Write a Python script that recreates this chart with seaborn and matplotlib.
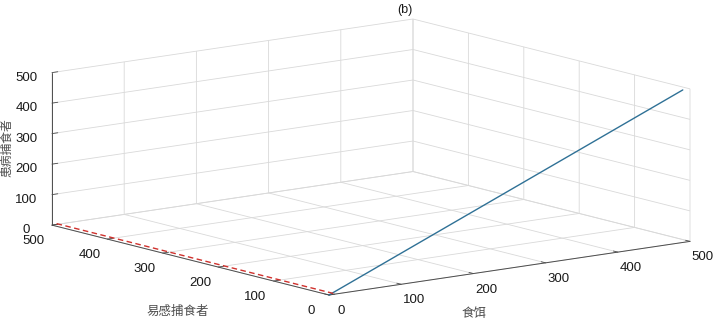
import numpy as np
import matplotlib
matplotlib.use("Agg")
import matplotlib.pyplot as plt
import seaborn as sns
from mpl_toolkits.mplot3d import proj3d

# ---- data ----
food_blue = [0, 490]
susc_blue = [0, 0]
infe_blue = [0, 500]

food_red = [6, 6]
susc_red = [0, 500]
infe_red = [3, 3]

ticks = [0, 100, 200, 300, 400, 500]
tick_labels = ["0", "100", "200", "300", "400", "500"]

title = "(b)"
xlabel = "食饵"
ylabel = "易感捕食者"
zlabel = "患病捕食者"

sns.set_theme(style="white")
plt.rcParams['font.family'] = ['Liberation Sans', 'DejaVu Sans']
cjk = ['Noto Sans CJK SC', 'DejaVu Sans']

W, H = 720, 326
fig = plt.figure(figsize=(W / 100, H / 100), dpi=100)
fig.patch.set_facecolor('white')
ax = fig.add_axes([0, 0, 1, 1], projection='3d', proj_type='ortho')


def _no_square(position=None):
    if position is None:
        position = ax.get_position(original=True)
    ax._set_position(position, 'active')


ax.apply_aspect = _no_square
ax.view_init(elev=30, azim=-127.5)
ax.set_box_aspect((1, 1, 1))
ax.set_xlim(0, 500)
ax.set_ylim(0, 500)
ax.set_zlim(0, 500)
ax.set_xticks(ticks, tick_labels)
ax.set_yticks(ticks, tick_labels)
ax.set_zticks(ticks, tick_labels)

ax.plot(food_blue, susc_blue, infe_blue, color='#2f7196', lw=1.0)
ax.plot(food_red, susc_red, infe_red, color='#d0312d', lw=1.0, ls=(0, (4, 2.5)))

for axis in (ax.xaxis, ax.yaxis, ax.zaxis):
    axis.set_pane_color((1, 1, 1, 0))
    axis.pane.set_edgecolor('0.78')
    axis.pane.set_linewidth(0.6)
    axis._axinfo['grid'].update(color='0.85', linewidth=0.6)
    axis._axinfo['tick'].update(inward_factor=0.0, outward_factor=0.2,
                                linewidth={True: 0.6, False: 0.4},
                                color='0.3')
    axis._axinfo['axisline'].update(color='0.3')
    axis.line.set_color('0.3')
    axis.line.set_linewidth(0.7)

ax.grid(True)
ax.tick_params(labelsize=9.5, colors='0.1')
ax.tick_params(axis='x', pad=1)
ax.tick_params(axis='y', pad=2)
ax.tick_params(axis='z', pad=0)
for t in ax.xaxis.get_major_ticks() + ax.yaxis.get_major_ticks() + ax.zaxis.get_major_ticks():
    t.tick1line.set_color('0.3')
    t.tick1line.set_linewidth(0.6)
ax.set_xlabel('')
ax.set_ylabel('')
ax.set_zlabel('')

fig.canvas.draw()


def to_uv(x, y, z):
    M = ax.get_proj()
    xs, ys, _ = proj3d.proj_transform(np.array([x]), np.array([y]), np.array([z]), M)
    p = ax.transData.transform((xs[0], ys[0]))
    pos = ax.get_position()
    return ((p[0] - pos.x0 * W) / (pos.width * W),
            (p[1] - pos.y0 * H) / (pos.height * H))


uL, _ = to_uv(0, 500, 0)
uR, _ = to_uv(500, 0, 0)
_, vB = to_uv(0, 0, 0)
_, vT = to_uv(500, 500, 500)
w = (690 - 52) / (uR - uL) / W
x0 = 52 / W - w * uL
h = (307 - 31) / (vT - vB) / H
y0 = 31 / H - h * vB
ax.set_position([x0, y0, w, h])

fig.text(405 / W, 1 - 10 / H, title, ha='center', va='center', fontsize=9, color='0.1')
fig.text(474 / W, 1 - 313 / H, xlabel, ha='center', va='center', fontsize=9,
         color='0.3', family=cjk)
fig.text(178 / W, 1 - 311 / H, ylabel, ha='center', va='center', fontsize=9,
         color='0.3', family=cjk)
fig.text(7 / W, 1 - 148 / H, zlabel, ha='center', va='center', fontsize=8.5,
         color='0.3', family=cjk, rotation=90)

fig.savefig('out.png', dpi=100, facecolor='white')
